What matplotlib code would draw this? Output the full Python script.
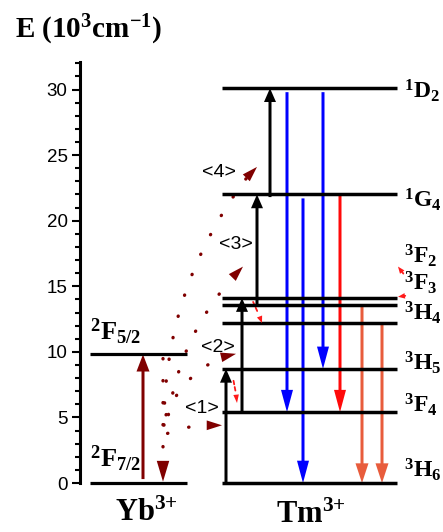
import matplotlib
matplotlib.use('Agg')
import matplotlib.pyplot as plt
import matplotlib.ticker as ticker
from matplotlib.patches import FancyArrowPatch

plt.rcParams['mathtext.default'] = 'regular'
plt.rcParams['font.family'] = ['Liberation Sans', 'DejaVu Sans']

# energies in 10^3 cm^-1
yb_names = ['$^2$F$_{7/2}$', '$^2$F$_{5/2}$']
yb_levels = [0, 9.8]

tm_names = ['$^3$H$_6$', '$^3$F$_4$', '$^3$H$_5$', '$^3$H$_4$',
            '$^3$F$_3$', '$^3$F$_2$', '$^1$G$_4$', '$^1$D$_2$']
tm_levels = [0, 5.4, 8.7, 12.2, 13.6, 14.1, 22.0, 30.1]

# upconversion steps <1>..<4>
up_names = ['<1>', '<2>', '<3>', '<4>']
up_from = [0, 5.4, 13.6, 21.8]
up_to = [8.7, 14.1, 22.0, 30.1]

# emissions
blue_from = [30.1, 22.0, 30.1]
blue_to = [5.4, 0, 8.7]
red_from = [22.0]
red_to = [5.4]
orange_from = [13.6, 12.2]
orange_to = [0, 0]

serif = dict(family='Liberation Serif', weight='bold')

fig = plt.figure(figsize=(4.43, 5.32), dpi=100)
# x axis is in pixels of the figure, y axis is energy
ax = fig.add_axes([80 / 443, 49 / 532, 363 / 443, 421 / 532])
ax.set_xlim(80, 443)
ax.set_ylim(0, 32.1)

for s in ['top', 'right', 'bottom']:
    ax.spines[s].set_visible(False)
ax.spines['left'].set_linewidth(2.2)
ax.set_xticks([])
ax.yaxis.set_major_locator(ticker.MultipleLocator(5))
ax.yaxis.set_minor_locator(ticker.MultipleLocator(1))
ax.tick_params(axis='y', which='major', direction='out', length=6, width=1.5, labelsize=13.5, pad=3)
ax.tick_params(axis='y', which='minor', direction='out', length=3.5, width=1.5)

fig.text(15 / 443, 1 - 30 / 532, 'E (10$^3$cm$^{-1}$)', fontsize=21, va='center', ha='left', **serif)

# levels
for E in yb_levels:
    ax.plot([90, 187], [E, E], color='k', lw=2.3, solid_capstyle='butt', clip_on=False)
for E in tm_levels:
    ax.plot([222, 397], [E, E], color='k', lw=2.5, solid_capstyle='butt', clip_on=False)

ax.text(90, 11.5, yb_names[1], fontsize=19, ha='left', va='center', **serif)
ax.text(90, 1.8, yb_names[0], fontsize=19, ha='left', va='center', **serif)
ax.text(146, -2.3, 'Yb$^{3{+}}$', fontsize=22, ha='center', va='center', **serif)
ax.text(311, -2.45, 'Tm$^{3{+}}$', fontsize=22, ha='center', va='center', **serif)

tm_label_y = [1.0, 6.0, 9.2, 13.0, 15.3, 17.3, 21.6, 29.9]
for name, yl in zip(tm_names, tm_label_y):
    ax.text(404, yl, name, fontsize=17, ha='left', va='center', **serif)


def varrow(x, y0, y1, color, hl, hw=12):
    ax.arrow(x, y0, 0, y1 - y0, width=3, head_width=hw, head_length=hl,
             length_includes_head=True, color=color, lw=0, clip_on=False)


# Yb absorption
varrow(143, 0.3, yb_levels[1], '#800000', 1.3, 13)

# Tm excitation steps
up_x = [226, 242, 257, 270]
up_label_xy = [(202, 5.7), (218, 10.3), (236, 18.2), (219, 23.7)]
for x, a, b, name, (lx, ly) in zip(up_x, up_from, up_to, up_names, up_label_xy):
    varrow(x, a, b, 'k', 1.05, 12)
    ax.text(lx, ly, name, fontsize=14, ha='center', va='center')

# emissions
for x, a, b in zip([287, 303, 323], blue_from, blue_to):
    varrow(x, a - 0.3, b, '#0000ff', 1.7, 12)
for x, a, b in zip([340], red_from, red_to):
    varrow(x, a, b, '#ff0a0a', 1.7, 12)
for x, a, b in zip([362, 382], orange_from, orange_to):
    varrow(x, a, b, '#e85c3c', 1.5, 13)


def dotted(p0, p1, tip, rad, color='#800000', hl=1.1, hw=0.35, ls=(0, (0.1, 6.5)), lw=2.4):
    arc = FancyArrowPatch(p0, p1, connectionstyle='arc3,rad=%s' % rad, arrowstyle='-',
                          color=color, lw=lw, linestyle=ls, capstyle='round', clip_on=False)
    ax.add_patch(arc)
    ax.annotate('', xy=tip, xytext=p1,
                arrowprops=dict(arrowstyle='-|>,head_length=%s,head_width=%s' % (hl, hw),
                                color=color, lw=0, shrinkA=0, shrinkB=0))


# energy transfer Yb -> Tm
dotted((163, 9.7), (163, 1.9), (163, 0.1), 0, hl=1.5, hw=0.45)
dotted((165, 3.7), (207, 4.4), (222, 4.4), -0.1)
dotted((165, 5.0), (222, 9.6), (236, 9.85), -0.2)
dotted((168, 5.0), (234, 15.8), (243, 16.5), -0.15)
dotted((164, 4.2), (248, 23.4), (257, 24.1), -0.17)

# cross relaxation hints
red_ls = (0, (2, 1.5))
dotted((252, 14.0), (259, 12.8), (262, 12.2), 0, color='#ff1a1a', hl=0.5, hw=0.2, ls=red_ls, lw=1.3)
dotted((233, 8.0), (236, 6.8), (237, 6.1), 0, color='#ff1a1a', hl=0.6, hw=0.2, ls=red_ls, lw=1.3)
dotted((405, 15.8), (402, 16.1), (398, 16.5), 0, color='#ff1a1a', hl=0.5, hw=0.2, ls=red_ls, lw=1.3)
dotted((408, 14.3), (403, 14.25), (398, 14.2), 0, color='#ff1a1a', hl=0.5, hw=0.2, ls=red_ls, lw=1.3)

plt.savefig('out.png', dpi=100)
